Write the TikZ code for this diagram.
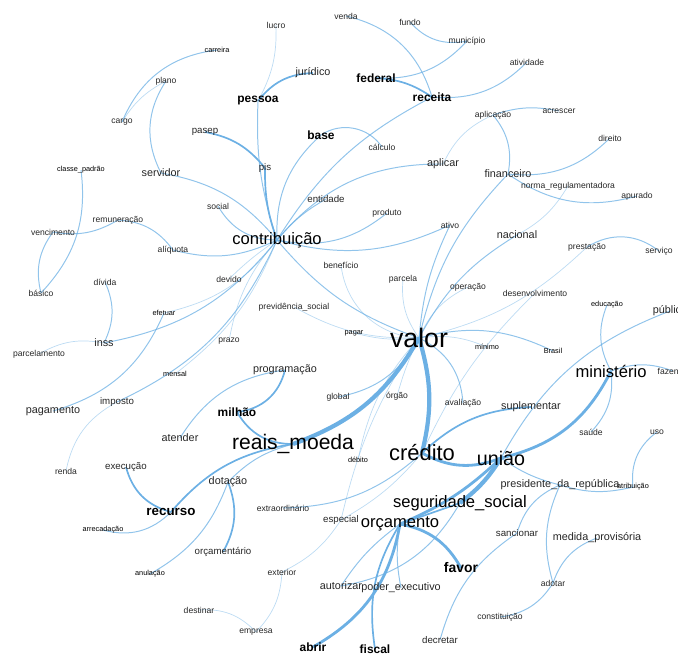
\documentclass[tikz,border=0pt]{standalone}
\usepackage{fontspec}
\setmainfont{Liberation Sans}
\pgfdeclarelayer{bg}
\pgfsetlayers{bg,main}
\definecolor{linkblue}{RGB}{108,176,228}

\begin{document}
\begin{tikzpicture}[x=0.025cm,y=0.025cm,
		word/.style={inner sep=0pt,text=black!85},
		t5/.style={word,font=\fontsize{5.2}{6}\selectfont,text=black},
		t6/.style={word,font=\fontsize{6.1}{7}\selectfont},
		t7/.style={word,font=\fontsize{6.9}{8}\selectfont},
		t8/.style={word,font=\fontsize{7.7}{9}\selectfont},
		tb/.style={word,font=\fontsize{8.5}{10}\selectfont\bfseries,text=black},
		t12/.style={word,font=\fontsize{11.8}{14}\selectfont,text=black},
		t15/.style={word,font=\fontsize{15}{18}\selectfont,text=black},
		e1/.style={draw=linkblue,opacity=0.45,line width=0.5pt},
		e2/.style={draw=linkblue,opacity=0.75,line width=0.7pt},
		e3/.style={draw=linkblue,line width=1.2pt},
		e4/.style={draw=linkblue,line width=2pt},
		e5/.style={draw=linkblue,line width=3pt}]
		\useasboundingbox (0,0) rectangle (678,-653);
		% topo
		\node[t6] (lucro) at (276,-25) {lucro};
		\node[t6] (venda) at (346,-16) {venda};
		\node[t6] (fundo) at (410,-22) {fundo};
		\node[t6] (municipio) at (467,-41) {município};
		\node[t5] (carreira) at (217,-50) {carreira};
		\node[t8] (juridico) at (313,-73) {jurídico};
		\node[t6] (atividade) at (527,-62) {atividade};
		\node[t6] (plano) at (166,-81) {plano};
		\node[tb] (federal) at (376,-78) {federal};
		\node[tb] (pessoa) at (258,-101) {pessoa};
		\node[tb] (receita) at (432,-97) {receita};
		\node[t6] (cargo) at (122,-122) {cargo};
		\node[t6] (aplicacao) at (493,-115) {aplicação};
		\node[t6] (acrescer) at (559,-111) {acrescer};
		\node[t7] (pasep) at (205,-132) {pasep};
		\node[tb] (base) at (321,-135) {base};
		\node[t6] (calculo) at (382,-147) {cálculo};
		\node[t6] (direito) at (610,-138) {direito};
		\node[t7] (pis) at (265,-168) {pis};
		\node[t8] (aplicar) at (443,-164) {aplicar};
		\node[t8] (servidor) at (161,-173) {servidor};
		\node[t8] (financeiro) at (508,-174) {financeiro};
		\node[t5] (classe) at (81,-170) {classe\_padrão};
		\node[t6] (norma) at (568,-186) {norma\_regulamentadora};
		\node[t6] (apurado) at (637,-196) {apurado};
		% contribuição
		\node[t6] (social) at (218,-206) {social};
		\node[t7] (entidade) at (326,-199) {entidade};
		\node[t6] (produto) at (387,-213) {produto};
		\node[t6] (ativo) at (450,-225) {ativo};
		\node[t6] (remuneracao) at (118,-220) {remuneração};
		\node[t12] (contribuicao) at (277,-240) {contribuição};
		\node[t8] (nacional) at (517,-235) {nacional};
		\node[t6] (vencimento) at (53,-232) {vencimento};
		\node[t6] (aliquota) at (173,-250) {alíquota};
		\node[t6] (prestacao) at (587,-247) {prestação};
		\node[t6] (servico) at (659,-251) {serviço};
		\node[t6] (beneficio) at (341,-265) {benefício};
		\node[t6] (divida) at (105,-282) {dívida};
		\node[t6] (basico) at (41,-293) {básico};
		\node[t6] (devido) at (229,-279) {devido};
		\node[t6] (parcela) at (403,-279) {parcela};
		\node[t6] (operacao) at (468,-287) {operação};
		\node[t6] (desenvolvimento) at (535,-293) {desenvolvimento};
		\node[t5] (educacao) at (607,-305) {educação};
		\node[t8] (publico) at (670,-311) {público};
		\node[t5] (efetuar) at (164,-313) {efetuar};
		\node[t6] (previdencia) at (294,-307) {previdência\_social};
		% valor
		\node[t5] (pagar) at (354,-333) {pagar};
		\node[word,font=\fontsize{19}{22}\selectfont,text=black] (valor) at (419,-338) {valor};
		\node[t5] (minimo) at (487,-347) {mínimo};
		\node[t5] (brasil) at (553,-351) {Brasil};
		\node[t8] (inss) at (104,-343) {inss};
		\node[t6] (parcelamento) at (39,-354) {parcelamento};
		\node[t6] (prazo) at (229,-341) {prazo};
		\node[t5] (mensal) at (175,-374) {mensal};
		\node[t8] (programacao) at (285,-370) {programação};
		\node[t12] (ministerio) at (611,-371) {ministério};
		\node[t6] (fazenda) at (673,-371) {fazenda};
		\node[t8] (pagamento) at (53,-411) {pagamento};
		\node[t7] (imposto) at (117,-402) {imposto};
		\node[t6] (global) at (338,-397) {global};
		\node[t6] (orgao) at (397,-396) {órgão};
		\node[t6] (avaliacao) at (463,-403) {avaliação};
		\node[tb] (milhao) at (237,-412) {milhão};
		\node[t8] (suplementar) at (531,-407) {suplementar};
		\node[t8] (atender) at (180,-438) {atender};
		\node[t15] (reais) at (293,-444) {reais\_moeda};
		\node[t5] (debito) at (358,-460) {débito};
		\node[word,font=\fontsize{15.6}{18}\selectfont,text=black] (credito) at (422,-453) {crédito};
		\node[word,font=\fontsize{14}{17}\selectfont,text=black] (uniao) at (501,-458) {união};
		\node[t6] (saude) at (591,-432) {saúde};
		\node[t6] (uso) at (657,-432) {uso};
		% orçamento
		\node[t6] (renda) at (66,-471) {renda};
		\node[t7] (execucao) at (126,-467) {execução};
		\node[t8] (dotacao) at (228,-482) {dotação};
		\node[t8] (presidente) at (560,-485) {presidente\_da\_república};
		\node[t5] (atribuicao) at (633,-487) {atribuição};
		\node[t12] (seguridade) at (460,-503) {seguridade\_social};
		\node[t6] (extraordinario) at (283,-508) {extraordinário};
		\node[word,font=\fontsize{9.5}{11}\selectfont\bfseries,text=black] (recurso) at (171,-512) {recurso};
		\node[t7] (especial) at (341,-520) {especial};
		\node[t12] (orcamento) at (400,-524) {orçamento};
		\node[t7] (sancionar) at (517,-533) {sancionar};
		\node[t8] (medida) at (597,-538) {medida\_provisória};
		\node[t5] (arrecadacao) at (103,-530) {arrecadação};
		\node[word,font=\fontsize{9.9}{12}\selectfont\bfseries,text=black] (favor) at (461,-568) {favor};
		\node[t7] (orcamentario) at (223,-552) {orçamentário};
		\node[t6] (exterior) at (282,-572) {exterior};
		\node[t5] (anulacao) at (150,-574) {anulação};
		\node[t8] (autorizar) at (341,-586) {autorizar};
		\node[t8] (poder) at (401,-588) {poder\_executivo};
		\node[t6] (adotar) at (553,-583) {adotar};
		\node[t6] (destinar) at (199,-610) {destinar};
		\node[t6] (constituicao) at (500,-617) {constituição};
		\node[t6] (empresa) at (256,-632) {empresa};
		\node[t7] (decretar) at (440,-640) {decretar};
		\node[tb] (abrir) at (313,-647) {abrir};
		\node[tb] (fiscal) at (375,-649) {fiscal};
		
		\begin{pgfonlayer}{bg}
		\path
		% topo
		(lucro.center) edge [e1, bend left=15] (pessoa.center)
		(pessoa.center) edge [e3, bend left=25] (juridico.center)
		(pessoa.center) edge [e2, bend right=10] (contribuicao.center)
		(carreira.center) edge [e2, bend right=30] (cargo.center)
		(plano.center) edge [e1, bend right=15] (cargo.center)
		(plano.center) edge [e2, bend right=30] (servidor.center)
		(servidor.center) edge [e2, bend left=20] (contribuicao.center)
		(pasep.center) edge [e3, bend left=20] (pis.center)
		(pis.center) edge [e3, bend right=10] (contribuicao.center)
		(base.center) edge [e2, bend right=25] (contribuicao.center)
		(base.center) edge [e2, bend left=45] (calculo.center)
		(receita.center) edge [e2, bend right=15] (contribuicao.center)
		(venda.center) edge [e2, bend left=30] (receita.center)
		(fundo.center) edge [e2, bend right=30] (municipio.center)
		(municipio.center) edge [e2, bend left=25] (federal.center)
		(federal.center) edge [e3, bend left=15] (receita.center)
		(receita.center) edge [e2, bend right=25] (atividade.center)
		(aplicacao.center) edge [e2, bend left=15] (acrescer.center)
		(aplicacao.center) edge [e1, bend right=20] (aplicar.center)
		(aplicacao.center) edge [e2, bend left=25] (financeiro.center)
		(aplicar.center) edge [e2, bend right=25] (contribuicao.center)
		(financeiro.center) edge [e2, bend right=25] (direito.center)
		(financeiro.center) edge [e2, bend right=25] (apurado.center)
		(financeiro.center) edge [e2, bend right=15] (valor.center)
		(norma.center) edge [e1, bend left=15] (nacional.center)
		% contribuição
		(ativo.center) edge [e2, bend left=20] (contribuicao.center)
		(ativo.center) edge [e2, bend right=10] (valor.center)
		(produto.center) edge [e2, bend left=25] (contribuicao.center)
		(entidade.center) edge [e2, bend right=10] (contribuicao.center)
		(social.center) edge [e2, bend right=30] (contribuicao.center)
		(remuneracao.center) edge [e2, bend left=20] (vencimento.center)
		(remuneracao.center) edge [e2, bend left=25] (aliquota.center)
		(aliquota.center) edge [e2, bend right=20] (contribuicao.center)
		(vencimento.center) edge [e2, bend right=25] (basico.center)
		(classe.center) edge [e2, bend left=25] (basico.center)
		(devido.center) edge [e1, bend left=5] (contribuicao.center)
		(efetuar.center) edge [e1, bend right=20] (contribuicao.center)
		(efetuar.center) edge [e2, bend left=25] (pagamento.center)
		(divida.center) edge [e2, bend left=25] (inss.center)
		(inss.center) edge [e1, bend right=20] (parcelamento.center)
		(inss.center) edge [e2, bend right=20] (contribuicao.center)
		(prazo.center) edge [e1, bend left=15] (contribuicao.center)
		(mensal.center) edge [e1, bend right=15] (contribuicao.center)
		(imposto.center) edge [e2, bend right=20] (contribuicao.center)
		(renda.center) edge [e1, bend left=25] (imposto.center)
		(contribuicao.center) edge [e2, bend right=15] (valor.center)
		% valor
		(previdencia.center) edge [e1, bend right=15] (valor.center)
		(beneficio.center) edge [e1, bend right=40] (valor.center)
		(pagar.center) edge [e1, bend right=10] (valor.center)
		(parcela.center) edge [e1, bend right=20] (valor.center)
		(operacao.center) edge [e1, bend right=20] (valor.center)
		(nacional.center) edge [e2, bend right=15] (valor.center)
		(prestacao.center) edge [e2, bend left=35] (servico.center)
		(prestacao.center) edge [e1, bend left=15] (valor.center)
		(desenvolvimento.center) edge [e1, bend right=10] (credito.center)
		(valor.center) edge [e1, bend left=15] (minimo.center)
		(valor.center) edge [e2, bend left=20] (brasil.center)
		(valor.center) edge [e2, bend left=30] (avaliacao.center)
		(orgao.center) edge [e1, bend left=5] (valor.center)
		(global.center) edge [e2, bend right=25] (valor.center)
		(debito.center) edge [e1, bend left=15] (valor.center)
		(valor.center) edge [e1, bend right=10] (especial.center)
		(valor.center) edge [e5, bend left=20] (reais.center)
		(valor.center) edge [e5, bend left=15] (credito.center)
		(milhao.center) edge [e3, bend right=30] (reais.center)
		(milhao.center) edge [e3, bend right=35] (programacao.center)
		(programacao.center) edge [e2, bend right=25] (atender.center)
		% crédito e união
		(credito.center) edge [e3, bend left=20] (suplementar.center)
		(credito.center) edge [e4, bend right=25] (uniao.center)
		(ministerio.center) edge [e4, bend left=25] (uniao.center)
		(educacao.center) edge [e2, bend right=25] (ministerio.center)
		(ministerio.center) edge [e2, bend left=25] (saude.center)
		(ministerio.center) edge [e2, bend left=20] (fazenda.center)
		(publico.center) edge [e2, bend right=20] (uniao.center)
		(uso.center) edge [e2, bend right=30] (atribuicao.center)
		(presidente.center) edge [e2, bend right=15] (atribuicao.center)
		(presidente.center) edge [e2, bend left=10] (uniao.center)
		(presidente.center) edge [e2, bend right=25] (sancionar.center)
		(presidente.center) edge [e2, bend right=20] (adotar.center)
		(medida.center) edge [e2, bend right=25] (adotar.center)
		(adotar.center) edge [e2, bend left=25] (constituicao.center)
		(sancionar.center) edge [e2, bend right=20] (decretar.center)
		(uniao.center) edge [e5, bend left=10] (seguridade.center)
		(uniao.center) edge [e4, bend left=10] (orcamento.center)
		(orcamento.center) edge [e3] (seguridade.center)
		% orçamento
		(orcamento.center) edge [e4, bend left=25] (favor.center)
		(orcamento.center) edge [e4, bend left=25] (abrir.center)
		(orcamento.center) edge [e3, bend right=20] (fiscal.center)
		(orcamento.center) edge [e2, bend right=10] (poder.center)
		(orcamento.center) edge [e2, bend right=10] (autorizar.center)
		(autorizar.center) edge [e2, bend right=25] (seguridade.center)
		(extraordinario.center) edge [e2, bend right=20] (credito.center)
		(especial.center) edge [e1, bend right=10] (credito.center)
		(exterior.center) edge [e1, bend right=15] (especial.center)
		(exterior.center) edge [e1, bend left=20] (empresa.center)
		(destinar.center) edge [e1, bend left=25] (empresa.center)
		% recurso e dotação
		(reais.center) edge [e3, bend right=20] (recurso.center)
		(reais.center) edge [e2, bend right=15] (dotacao.center)
		(execucao.center) edge [e3, bend right=30] (recurso.center)
		(recurso.center) edge [e2, bend left=30] (arrecadacao.center)
		(dotacao.center) edge [e3, bend left=25] (orcamentario.center)
		(dotacao.center) edge [e2, bend left=20] (anulacao.center);
		\end{pgfonlayer}
		
	\end{tikzpicture}
\end{document}
